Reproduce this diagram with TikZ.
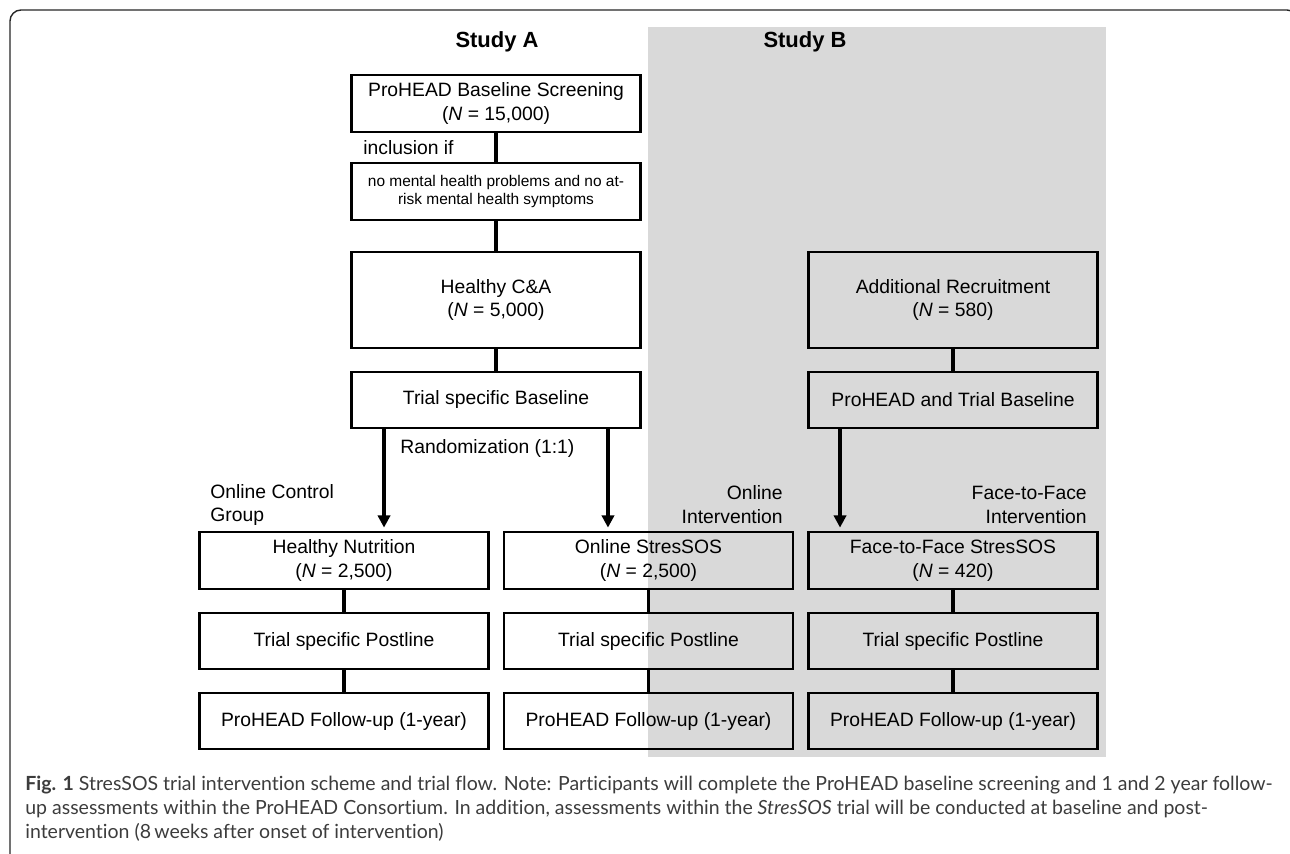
\documentclass[tikz,border=0pt]{standalone}
\usepackage{fontspec}
\setmainfont{Liberation Sans}
\newfontfamily\capfont[Ligatures=NoCommon]{Lato}
\usepackage{tikz}
\usetikzlibrary{arrows.meta,positioning,calc}
\definecolor{studyb}{RGB}{217,217,217}
\definecolor{capgray}{RGB}{60,60,60}

\begin{document}
\begin{tikzpicture}[x=0.02cm, y=-0.02cm, >={Triangle[length=7pt,width=7pt]},
  font=\fontsize{11}{13.6}\selectfont]
\tikzstyle{box}=[draw=black, line width=1.3pt, align=center, inner sep=0pt,
  minimum width=5.78cm, minimum height=1.13cm]
\tikzstyle{tallbox}=[box, minimum height=1.92cm]
\tikzstyle{lbl}=[inner sep=0pt]
\tikzstyle{title}=[inner sep=0pt, font=\fontsize{12.5}{15}\selectfont\bfseries]
\tikzstyle{conn}=[draw, line width=1.8pt]
\useasboundingbox (0,0) rectangle (1290,854);

% grey band of study B and the outer frame
\fill[studyb] (648,27) rectangle (1106,757);
\draw[line width=0.8pt, draw=black!85, rounded corners=0.22cm]
  (10,880) -- (10,10) -- (1298,10) -- (1298,880);

\node[title] (studya) at (497,42) {Study A};
\node[title] (studyb) at (805,42) {Study B};

% study A
\node[box]     (screen)  at (496,103.5) {ProHEAD Baseline Screening\\(\textit{N} = 15,000)};
\node[box, font=\fontsize{8.8}{10.8}\selectfont]
               (incl)    at (496,191.5) {no mental health problems and no at-\\risk mental health symptoms};
\node[tallbox] (healthy) at (496,300)   {Healthy C\&A\\(\textit{N} = 5,000)};
\node[box]     (tbase)   at (496,400)   {Trial specific Baseline};

% study B
\node[tallbox] (recruit) at (953,300)   {Additional Recruitment\\(\textit{N} = 580)};
\node[box]     (ptbase)  at (953,400)   {ProHEAD and Trial Baseline};

% arms
\node[box] (nutri)  at (344,560.5) {Healthy Nutrition\\(\textit{N} = 2,500)};
\node[box] (onl)    at (648.5,560.5) {Online StresSOS\\(\textit{N} = 2,500)};
\node[box] (ftf)    at (953,560.5) {Face-to-Face StresSOS\\(\textit{N} = 420)};
\node[box] (npost)  at (344,641)   {Trial specific Postline};
\node[box] (opost)  at (648.5,641) {Trial specific Postline};
\node[box] (fpost)  at (953,641)   {Trial specific Postline};
\node[box] (nfoll)  at (344,721)   {ProHEAD Follow-up (1-year)};
\node[box] (ofoll)  at (648.5,721) {ProHEAD Follow-up (1-year)};
\node[box] (ffoll)  at (953,721)   {ProHEAD Follow-up (1-year)};

% labels
\node[lbl, anchor=west] (incltxt) at (363,148) {inclusion if};
\node[lbl, anchor=west] (rand)    at (400,448) {Randomization (1:1)};
\node[lbl, anchor=west, align=left]   (ctrl)   at (210,505) {Online Control\\Group};
\node[lbl, anchor=east, align=right]  (onlint) at (783,505) {Online\\Intervention};
\node[lbl, anchor=east, align=right]  (ftfint) at (1087,505) {Face-to-Face\\Intervention};

\path
(screen)  edge[conn] (incl)
(incl)    edge[conn] (healthy)
(healthy) edge[conn] (tbase)
(recruit) edge[conn] (ptbase)
(nutri)   edge[conn] (npost)
(npost)   edge[conn] (nfoll)
(onl)     edge[conn] (opost)
(opost)   edge[conn] (ofoll)
(ftf)     edge[conn] (fpost)
(fpost)   edge[conn] (ffoll);

\draw[conn, ->, shorten >=2pt] ([xshift=-2.24cm]tbase.south) -- ([xshift=-2.24cm]tbase.south |- nutri.north);
\draw[conn, ->, shorten >=2pt] ([xshift=2.24cm]tbase.south) -- ([xshift=2.24cm]tbase.south |- onl.north);
\draw[conn, ->, shorten >=2pt] ([xshift=-2.26cm]ptbase.south) -- ([xshift=-2.26cm]ptbase.south |- ftf.north);

% caption
\node[anchor=north west, inner sep=0pt, align=left, text=capgray,
  font=\capfont\fontsize{11.1}{13.6}\selectfont] (caption) at (25,776)
{\textbf{Fig. 1} StresSOS trial intervention scheme and trial flow. Note: Participants will complete the ProHEAD baseline screening and 1 and 2 year follow-\\
up assessments within the ProHEAD Consortium. In addition, assessments within the \textit{StresSOS} trial will be conducted at baseline and post-\\
intervention (8\,weeks after onset of intervention)};
\end{tikzpicture}
\end{document}
